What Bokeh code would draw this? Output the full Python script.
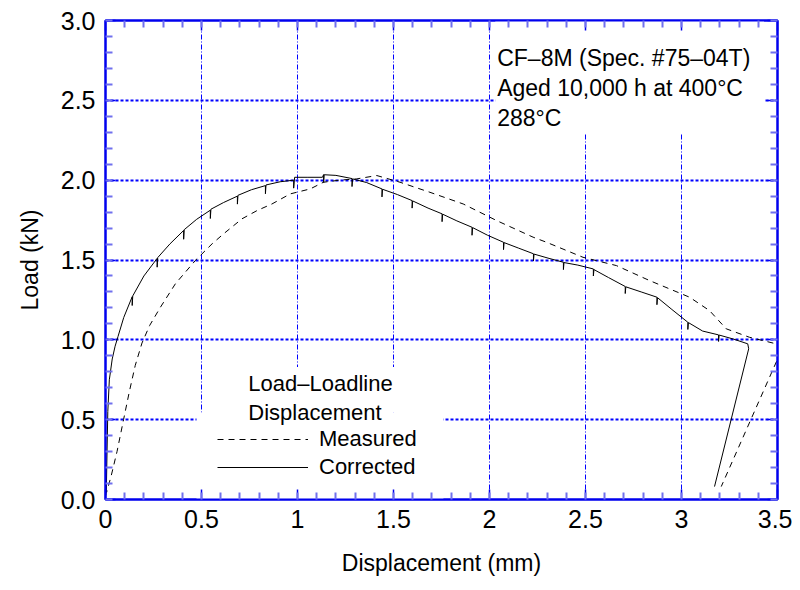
from bokeh.plotting import figure
from bokeh.models import LinearAxis, FixedTicker, Label, Legend, LegendItem, Range1d
from bokeh.embed import file_html
from bokeh.resources import INLINE

# ---- data ----
measured_x = [0.0, 0.03, 0.06, 0.094, 0.125, 0.155, 0.19, 0.23, 0.286, 0.364, 0.468,
              0.555, 0.615, 0.711, 0.79, 0.867, 0.962, 1.066, 1.135, 1.22, 1.309, 1.413,
              1.534, 1.69, 1.863, 2.037, 2.227, 2.297, 2.487, 2.661, 2.834, 3.042, 3.146,
              3.233, 3.354, 3.493, 3.53, 3.207]
measured_y = [0.02, 0.15, 0.3, 0.5, 0.68, 0.84, 0.98, 1.09, 1.204, 1.351, 1.497,
              1.601, 1.664, 1.758, 1.81, 1.851, 1.914, 1.945, 1.987, 2.0, 2.008, 2.029,
              1.987, 1.924, 1.851, 1.747, 1.643, 1.611, 1.517, 1.465, 1.371, 1.267, 1.183,
              1.069, 1.016, 0.975, 0.96, 0.081]

corrected_x = [0.004, 0.008, 0.012, 0.02, 0.035, 0.05, 0.065, 0.095,
               0.139, 0.139, 0.142, 0.2, 0.269, 0.269, 0.272, 0.335,
               0.407, 0.407, 0.41, 0.475, 0.546, 0.546, 0.549, 0.615,
               0.687, 0.687, 0.69, 0.76, 0.833, 0.833, 0.836, 0.91,
               0.98, 0.98, 0.985, 1.05, 1.13, 1.136, 1.136, 1.139, 1.2,
               1.284, 1.284, 1.287, 1.36, 1.44, 1.44, 1.443, 1.52,
               1.597, 1.597, 1.6, 1.68, 1.753, 1.753, 1.756, 1.83,
               1.909, 1.909, 1.912, 1.99, 2.073, 2.073, 2.076, 2.15,
               2.229, 2.229, 2.232, 2.31, 2.385, 2.385, 2.388, 2.46,
               2.541, 2.541, 2.544, 2.62, 2.707, 2.707, 2.71, 2.79,
               2.872, 2.872, 2.875, 2.95, 3.033, 3.033, 3.036, 3.11,
               3.193, 3.193, 3.196, 3.27, 3.345, 3.35, 3.172]
corrected_y = [0.03, 0.3, 0.55, 0.75, 0.88, 0.96, 1.02, 1.14,
               1.27, 1.215, 1.275, 1.40, 1.51, 1.455, 1.515, 1.60,
               1.685, 1.63, 1.69, 1.755, 1.812, 1.76, 1.818, 1.86,
               1.90, 1.85, 1.905, 1.94, 1.966, 1.915, 1.97, 1.99,
               2.0, 1.95, 2.018, 2.018, 2.018, 2.035, 1.985, 2.034, 2.03,
               2.01, 1.96, 2.008, 1.985, 1.945, 1.895, 1.943, 1.91,
               1.872, 1.825, 1.87, 1.825, 1.789, 1.74, 1.787, 1.745,
               1.705, 1.655, 1.703, 1.655, 1.611, 1.565, 1.609, 1.575,
               1.539, 1.495, 1.537, 1.51, 1.486, 1.44, 1.484, 1.468,
               1.444, 1.40, 1.44, 1.39, 1.334, 1.29, 1.332, 1.30,
               1.267, 1.22, 1.264, 1.19, 1.11, 1.065, 1.108, 1.055,
               1.031, 0.99, 1.03, 1.005, 0.975, 0.944, 0.081]

x_ticks = [0, 0.5, 1, 1.5, 2, 2.5, 3, 3.5]
x_tick_labels = ["0", "0.5", "1", "1.5", "2", "2.5", "3", "3.5"]
y_ticks = [0, 0.5, 1.0, 1.5, 2.0, 2.5, 3.0]
y_tick_labels = ["0.0", "0.5", "1.0", "1.5", "2.0", "2.5", "3.0"]
annotation_lines = ["CF\u20138M (Spec. #75\u201304T)", "Aged 10,000 h at 400\u00b0C", "288\u00b0C"]
legend_title_lines = ["Load\u2013Loadline", "Displacement"]
series_names = ["Measured", "Corrected"]
x_title = "Displacement (mm)"
y_title = "Load (kN)"

FONT = "Liberation Sans"
FRAME_BLUE = "#0000ee"
GRID_BLUE = "#0000ff"
MINOR_BLUE = "#7070ee"

p = figure(width=792, height=582, x_range=Range1d(0, 3.5), y_range=Range1d(0, 3.0),
           output_backend="svg", toolbar_location=None,
           min_border_left=105, min_border_right=15, min_border_top=20, min_border_bottom=83)
p.outline_line_color = FRAME_BLUE
p.outline_line_width = 2
p.background_fill_color = "white"
p.border_fill_color = "white"

x_minor = [round(i * 0.1, 1) for i in range(36)]
y_minor = [round(i * 0.1, 1) for i in range(31)]
xticker = FixedTicker(ticks=x_ticks, minor_ticks=x_minor)
yticker = FixedTicker(ticks=y_ticks, minor_ticks=y_minor)


def style_axis(ax, labels=True):
    ax.axis_line_color = FRAME_BLUE
    ax.axis_line_width = 2
    ax.major_tick_in = 10
    ax.major_tick_out = 0
    ax.minor_tick_in = 7
    ax.minor_tick_out = 0
    ax.major_tick_line_color = FRAME_BLUE
    ax.major_tick_line_width = 1.5
    ax.minor_tick_line_color = MINOR_BLUE
    ax.minor_tick_line_width = 2
    ax.major_label_text_font = FONT
    ax.major_label_text_color = "black"
    ax.axis_label_text_font = FONT
    ax.axis_label_text_font_size = "23px"
    ax.axis_label_text_font_style = "normal"
    ax.axis_label_text_color = "black"
    ax.major_label_text_font_size = "25px"
    if labels:
        ax.major_label_standoff = 10
    else:
        ax.major_label_standoff = 0


xa = p.xaxis[0]
xa.ticker = xticker
xa.major_label_overrides = {t: l for t, l in zip(x_ticks, x_tick_labels)}
xa.axis_label = x_title
xa.axis_label_standoff = 19
style_axis(xa)

ya = p.yaxis[0]
ya.ticker = yticker
ya.major_label_overrides = {t: l for t, l in zip(y_ticks, y_tick_labels)}
ya.axis_label = y_title
ya.axis_label_standoff = 15
style_axis(ya)

top_ax = LinearAxis(ticker=FixedTicker(ticks=x_ticks, minor_ticks=x_minor))
style_axis(top_ax, labels=False)
top_ax.major_label_overrides = {t: "" for t in x_ticks}
p.add_layout(top_ax, "above")
right_ax = LinearAxis(ticker=FixedTicker(ticks=y_ticks, minor_ticks=y_minor))
style_axis(right_ax, labels=False)
right_ax.major_label_overrides = {t: "" for t in y_ticks}
p.add_layout(right_ax, "right")

p.xgrid.ticker = xticker
p.ygrid.ticker = yticker
p.xgrid.grid_line_color = GRID_BLUE
p.xgrid.grid_line_width = 1
p.xgrid.grid_line_dash = "5 2 1 2"
p.ygrid.grid_line_color = GRID_BLUE
p.ygrid.grid_line_width = 2
p.ygrid.grid_line_dash = "3 2"

# white backgrounds behind the text blocks (they interrupt the grid)
p.quad(left=[2.03, 0.52, 0.474], right=[3.43, 1.76, 1.76],
       bottom=[2.29, 0.545, 0.0], top=[3.0, 0.83, 0.545],
       fill_color="white", line_color=None)

r_meas = p.line(measured_x, measured_y, line_color="black", line_width=1, line_dash="6 5")
r_corr = p.line(corrected_x, corrected_y, line_color="black", line_width=1)

legend = Legend(items=[LegendItem(label=series_names[0], renderers=[r_meas]),
                       LegendItem(label=series_names[1], renderers=[r_corr])],
                location=(112, 19), glyph_width=91, glyph_height=24, label_height=24,
                spacing=2, padding=0, margin=0, label_standoff=11,
                label_text_font=FONT, label_text_font_size="22px", label_text_color="black",
                border_line_color=None, background_fill_alpha=0)
p.add_layout(legend)

for txt, yy in zip(legend_title_lines, [0.726, 0.545]):
    p.add_layout(Label(x=0.744, y=yy, text=txt, text_baseline="middle",
                       text_font=FONT, text_font_size="22px", text_color="black"))

for txt, yy in zip(annotation_lines, [2.768, 2.58, 2.39]):
    p.add_layout(Label(x=2.04, y=yy, text=txt, text_baseline="middle",
                       text_font=FONT, text_font_size="23px", text_color="black"))

open("out.html", "w").write(file_html(p, INLINE))
